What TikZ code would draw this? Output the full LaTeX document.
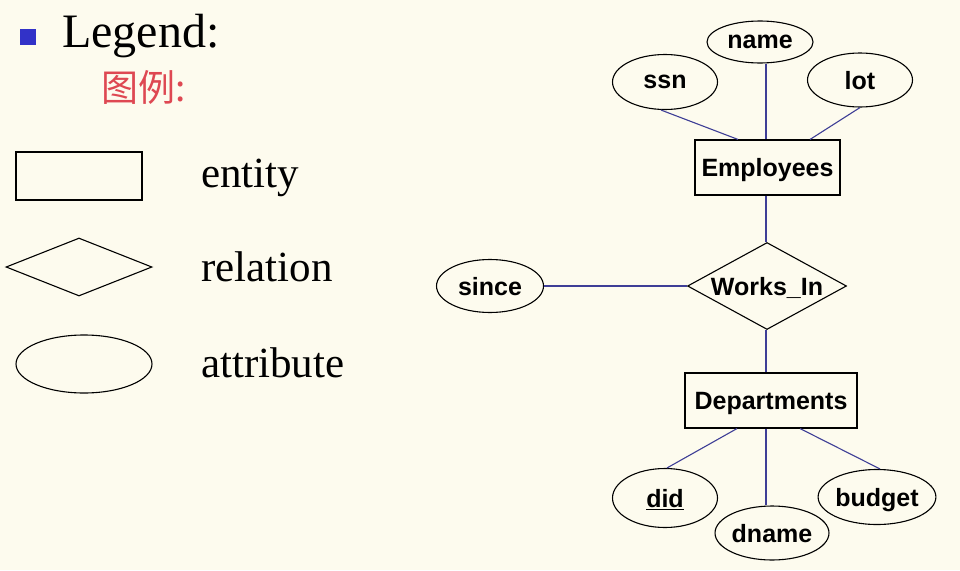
\documentclass[tikz,border=0pt]{standalone}
\usepackage{fontspec}
\setmainfont{Liberation Serif}
\setsansfont{Liberation Sans}
\newfontfamily\cjk{Noto Sans CJK SC}
\usetikzlibrary{shapes.geometric}
\definecolor{bg}{RGB}{253,251,238}
\definecolor{conn}{RGB}{62,62,150}
\definecolor{bulletblue}{RGB}{50,50,200}
\definecolor{handred}{RGB}{222,72,82}
\tikzset{
  attr/.style={draw=black, line width=1.1pt, ellipse, inner sep=0pt, text depth=0pt, font=\sffamily\bfseries\fontsize{25}{27}\selectfont},
  ent/.style={draw=black, line width=1.1pt, rectangle, inner sep=0pt, text depth=0pt, font=\sffamily\bfseries\fontsize{25}{27}\selectfont},
  rel/.style={draw=black, line width=1.1pt, diamond, inner sep=0pt},
  reltext/.style={text depth=0pt, font=\sffamily\bfseries\fontsize{25}{27}\selectfont},
  conn/.style={draw=conn, line width=1.1pt},
  legtext/.style={anchor=base west, inner sep=0pt, font=\fontsize{43}{45}\selectfont},
}
\begin{document}
\begin{tikzpicture}[x=1pt,y=-1pt]
\fill[bg] (0,0) rectangle (960,570);
\useasboundingbox (0,0) rectangle (960,570);
% legend
\node[fill=bulletblue, minimum width=16pt, minimum height=16pt, inner sep=0pt] (bul) at (28,37) {};
\node[anchor=base west, inner sep=0pt, font=\fontsize{48}{50}\selectfont] (leg) at (62,47) {Legend:};
\node[anchor=west, inner sep=0pt, text=handred, font=\cjk\fontsize{37}{39}\selectfont] (cn) at (101,87) {图例:};
\node[draw=black, line width=1.1pt, minimum width=126pt, minimum height=48pt, inner sep=0pt] (lrect) at (79,176) {};
\node[rel, minimum width=146pt, minimum height=58pt] (ldia) at (79,267) {};
\node[draw=black, line width=1.1pt, ellipse, minimum width=136pt, minimum height=58pt, inner sep=0pt] (lell) at (84,364) {};
\node[legtext] (tent) at (201,187) {entity};
\node[legtext] (trel) at (201,281) {relation};
\node[legtext] (tatt) at (201,377) {attribute};
% ER diagram
\node[attr, minimum width=106pt, minimum height=42pt] (name) at (760,42) {name};
\node[attr, minimum width=105pt, minimum height=55pt] (ssn) at (665,82) {ssn};
\node[attr, minimum width=105pt, minimum height=54pt] (lot) at (860,80) {lot};
\node[ent, minimum width=145pt, minimum height=55pt] (emp) at (767.5,167.5) {Employees};
\node[rel, minimum width=159pt, minimum height=87pt, label={[reltext]center:Works\_In}] (wi) at (767,286) {};
\node[attr, minimum width=107pt, minimum height=53pt] (since) at (490,286) {since};
\node[ent, minimum width=172pt, minimum height=55pt] (dept) at (771,400.5) {Departments};
\node[attr, minimum width=105pt, minimum height=59pt] (did) at (665,498) {\underline{did}};
\node[attr, minimum width=105pt, minimum height=54pt] (dname) at (772,533) {dname};
\node[attr, minimum width=106pt, minimum height=55pt] (budget) at (877,497) {budget};
% connectors
\draw[conn] ([xshift=-4pt]ssn.south) -- ([xshift=-29.5pt]emp.north);
\draw[conn] ([xshift=6pt]name.south) -- ([xshift=-1.5pt]emp.north);
\draw[conn] (lot.south) -- ([xshift=42.5pt]emp.north);
\draw[conn] ([xshift=-1.5pt]emp.south) -- ([xshift=-1pt]wi.north);
\draw[conn] (since.east) -- (wi.west);
\draw[conn] ([xshift=-1pt]wi.south) -- ([xshift=-5pt]dept.north);
\draw[conn] ([xshift=-34pt]dept.south) -- ([xshift=2pt]did.north);
\draw[conn] ([xshift=-5pt]dept.south) -- ([xshift=-6pt]dname.north);
\draw[conn] ([xshift=29pt]dept.south) -- ([xshift=3pt]budget.north);
\end{tikzpicture}
\end{document}
